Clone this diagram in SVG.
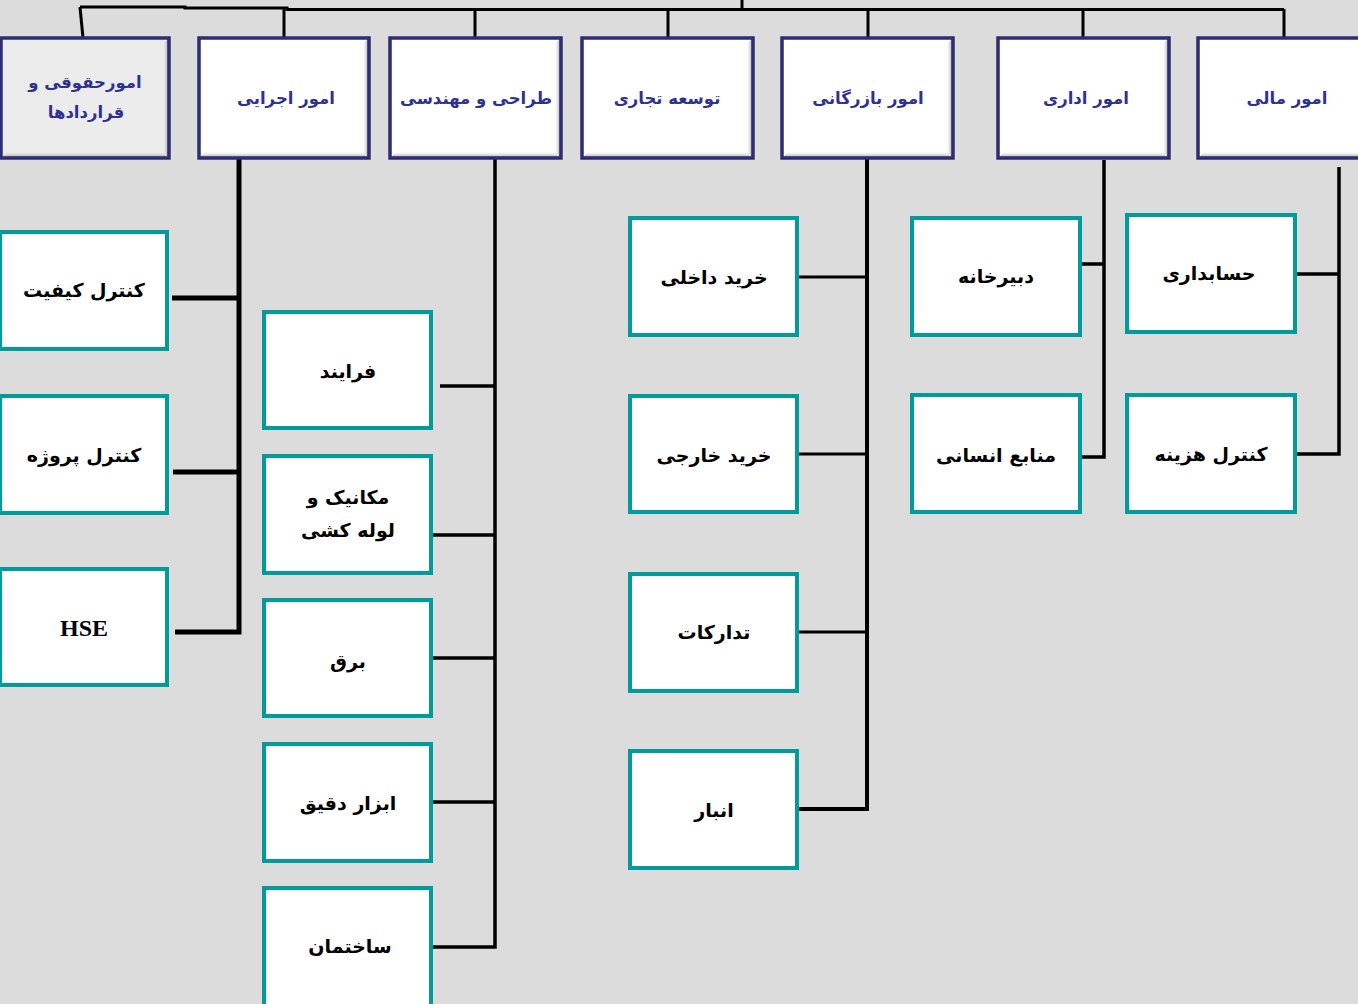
<svg xmlns="http://www.w3.org/2000/svg" width="1358" height="1004" viewBox="0 0 1358 1004">
<defs>
<linearGradient id="gr" x1="0" y1="0" x2="1" y2="0"><stop offset="0" stop-color="#ffffff" stop-opacity="0"/><stop offset="1" stop-color="#8c8c8c"/></linearGradient>
<linearGradient id="gb" x1="0" y1="0" x2="0" y2="1"><stop offset="0" stop-color="#ffffff" stop-opacity="0"/><stop offset="1" stop-color="#8c8c8c"/></linearGradient>
<style>
.top rect.f{fill:#ffffff}
.top rect.o{fill:none;stroke:#2d2d75;stroke-width:3.5}
.br{fill:url(#gr)}
.bb{fill:url(#gb)}
.tt{font-family:"DejaVu Sans",sans-serif;font-weight:bold;font-size:16.5px;fill:#2e3192;text-anchor:middle;direction:rtl}
.ch rect{fill:#ffffff;stroke:#009b9b;stroke-width:4}
.ct{font-family:"DejaVu Sans",sans-serif;font-weight:bold;font-size:19px;fill:#000000;text-anchor:middle;direction:rtl}
.en{font-family:"Liberation Serif",serif;font-weight:bold;font-size:24px;fill:#000;text-anchor:middle}
#connectors path{fill:none;stroke:#000;stroke-linejoin:miter}
</style>
</defs>
<rect x="0" y="0" width="1358" height="1004" fill="#dcdcdc"/>

<g id="connectors">
<path d="M80 7 L185 7 L185 8 L287 8 L287 9.5 L1284 9.5" stroke-width="3"/>
<path d="M742 0 L742 9" stroke-width="3"/>
<path d="M80 7 L83 38" stroke-width="3"/>
<path d="M284 8 L284 38" stroke-width="3"/>
<path d="M475 9 L475 38" stroke-width="3"/>
<path d="M668 9 L668 38" stroke-width="3"/>
<path d="M868 9 L868 38" stroke-width="3"/>
<path d="M1083 9 L1083 38" stroke-width="3"/>
<path d="M1284 9 L1284 38" stroke-width="3"/>
<path d="M239 152 L239 632 L175 632" stroke-width="5"/>
<path d="M172 298 L239 298" stroke-width="5"/>
<path d="M173 472 L239 472" stroke-width="5"/>
<path d="M495 159 L495 947 L433 947" stroke-width="3.5"/>
<path d="M440 386 L495 386" stroke-width="3.5"/>
<path d="M433 535 L495 535" stroke-width="3.5"/>
<path d="M433 658 L495 658" stroke-width="3.5"/>
<path d="M433 802 L495 802" stroke-width="3.5"/>
<path d="M867 159 L867 809 L799 809" stroke-width="4"/>
<path d="M799 277 L867 277" stroke-width="3"/>
<path d="M799 454 L867 454" stroke-width="3"/>
<path d="M799 632 L867 632" stroke-width="3"/>
<path d="M1104 160 L1104 457 L1082 457" stroke-width="3.5"/>
<path d="M1082 264 L1104 264" stroke-width="3.5"/>
<path d="M1339 167 L1339 454 L1297 454" stroke-width="3.5"/>
<path d="M1297 274 L1339 274" stroke-width="3.5"/>
</g>

<g id="n-hoghoghi" class="top">
<rect class="f" x="1" y="38" width="168" height="120" style="fill:#ececec"/>
<polygon class="br" points="162,45 169,38 169,158 162,151"/>
<polygon class="bb" points="8,151 162,151 169,158 1,158"/>
<rect class="o" x="1" y="38" width="168" height="120"/>
<text class="tt" x="85" y="88">امورحقوقی و</text>
<text class="tt" x="86" y="118">قراردادها</text>
</g>
<g id="n-ejraee" class="top">
<rect class="f" x="199" y="38" width="170" height="120"/>
<polygon class="br" points="362,45 369,38 369,158 362,151"/>
<polygon class="bb" points="206,151 362,151 369,158 199,158"/>
<rect class="o" x="199" y="38" width="170" height="120"/>
<text class="tt" x="286" y="104">امور اجرایی</text>
</g>
<g id="n-tarahi" class="top">
<rect class="f" x="390" y="38" width="171" height="120"/>
<polygon class="br" points="554,45 561,38 561,158 554,151"/>
<polygon class="bb" points="397,151 554,151 561,158 390,158"/>
<rect class="o" x="390" y="38" width="171" height="120"/>
<text class="tt" x="476" y="104">طراحی و مهندسی</text>
</g>
<g id="n-tose" class="top">
<rect class="f" x="582" y="38" width="171" height="120"/>
<polygon class="br" points="746,45 753,38 753,158 746,151"/>
<polygon class="bb" points="589,151 746,151 753,158 582,158"/>
<rect class="o" x="582" y="38" width="171" height="120"/>
<text class="tt" x="667" y="104">توسعه تجاری</text>
</g>
<g id="n-bazargani" class="top">
<rect class="f" x="782" y="38" width="171" height="120"/>
<polygon class="br" points="946,45 953,38 953,158 946,151"/>
<polygon class="bb" points="789,151 946,151 953,158 782,158"/>
<rect class="o" x="782" y="38" width="171" height="120"/>
<text class="tt" x="868" y="104">امور بازرگانی</text>
</g>
<g id="n-edari" class="top">
<rect class="f" x="998" y="38" width="171" height="120"/>
<polygon class="br" points="1162,45 1169,38 1169,158 1162,151"/>
<polygon class="bb" points="1005,151 1162,151 1169,158 998,158"/>
<rect class="o" x="998" y="38" width="171" height="120"/>
<text class="tt" x="1086" y="104">امور اداری</text>
</g>
<g id="n-mali" class="top">
<rect class="f" x="1198" y="38" width="172" height="120"/>
<polygon class="bb" points="1205,151 1370,151 1370,158 1198,158"/>
<rect class="o" x="1198" y="38" width="172" height="120"/>
<text class="tt" x="1287" y="104">امور مالی</text>
</g>

<g id="n-keyfiat" class="ch"><rect x="0" y="232" width="167" height="117"/><text class="ct" x="84" y="297">کنترل کیفیت</text></g>
<g id="n-project" class="ch"><rect x="0" y="396" width="167" height="117"/><text class="ct" x="84" y="462">کنترل پروژه</text></g>
<g id="n-hse" class="ch"><rect x="0" y="569" width="167" height="116"/><text class="en" x="84" y="636">HSE</text></g>

<g id="n-farayand" class="ch"><rect x="264" y="312" width="167" height="116"/><text class="ct" x="348" y="378">فرایند</text></g>
<g id="n-mechanic" class="ch"><rect x="264" y="456" width="167" height="117"/><text class="ct" x="348" y="504">مکانیک و</text><text class="ct" x="348" y="537">لوله کشی</text></g>
<g id="n-bargh" class="ch"><rect x="264" y="600" width="167" height="116"/><text class="ct" x="348" y="668">برق</text></g>
<g id="n-abzar" class="ch"><rect x="264" y="744" width="167" height="117"/><text class="ct" x="348" y="810">ابزار دقیق</text></g>
<g id="n-sakhteman" class="ch"><rect x="264" y="888" width="167" height="130"/><text class="ct" x="350" y="953">ساختمان</text></g>

<g id="n-dakheli" class="ch"><rect x="630" y="218" width="167" height="117"/><text class="ct" x="714" y="284">خرید داخلی</text></g>
<g id="n-khareji" class="ch"><rect x="630" y="396" width="167" height="116"/><text class="ct" x="714" y="462">خرید خارجی</text></g>
<g id="n-tadarokat" class="ch"><rect x="630" y="574" width="167" height="117"/><text class="ct" x="714" y="639">تدارکات</text></g>
<g id="n-anbar" class="ch"><rect x="630" y="751" width="167" height="117"/><text class="ct" x="714" y="817">انبار</text></g>

<g id="n-dabirkhane" class="ch"><rect x="912" y="218" width="168" height="117"/><text class="ct" x="996" y="283">دبیرخانه</text></g>
<g id="n-manabe" class="ch"><rect x="912" y="395" width="168" height="117"/><text class="ct" x="996" y="462">منابع انسانی</text></g>

<g id="n-hesabdari" class="ch"><rect x="1127" y="215" width="168" height="117"/><text class="ct" x="1209" y="280">حسابداری</text></g>
<g id="n-hazine" class="ch"><rect x="1127" y="395" width="168" height="117"/><text class="ct" x="1211" y="461">کنترل هزینه</text></g>
</svg>
